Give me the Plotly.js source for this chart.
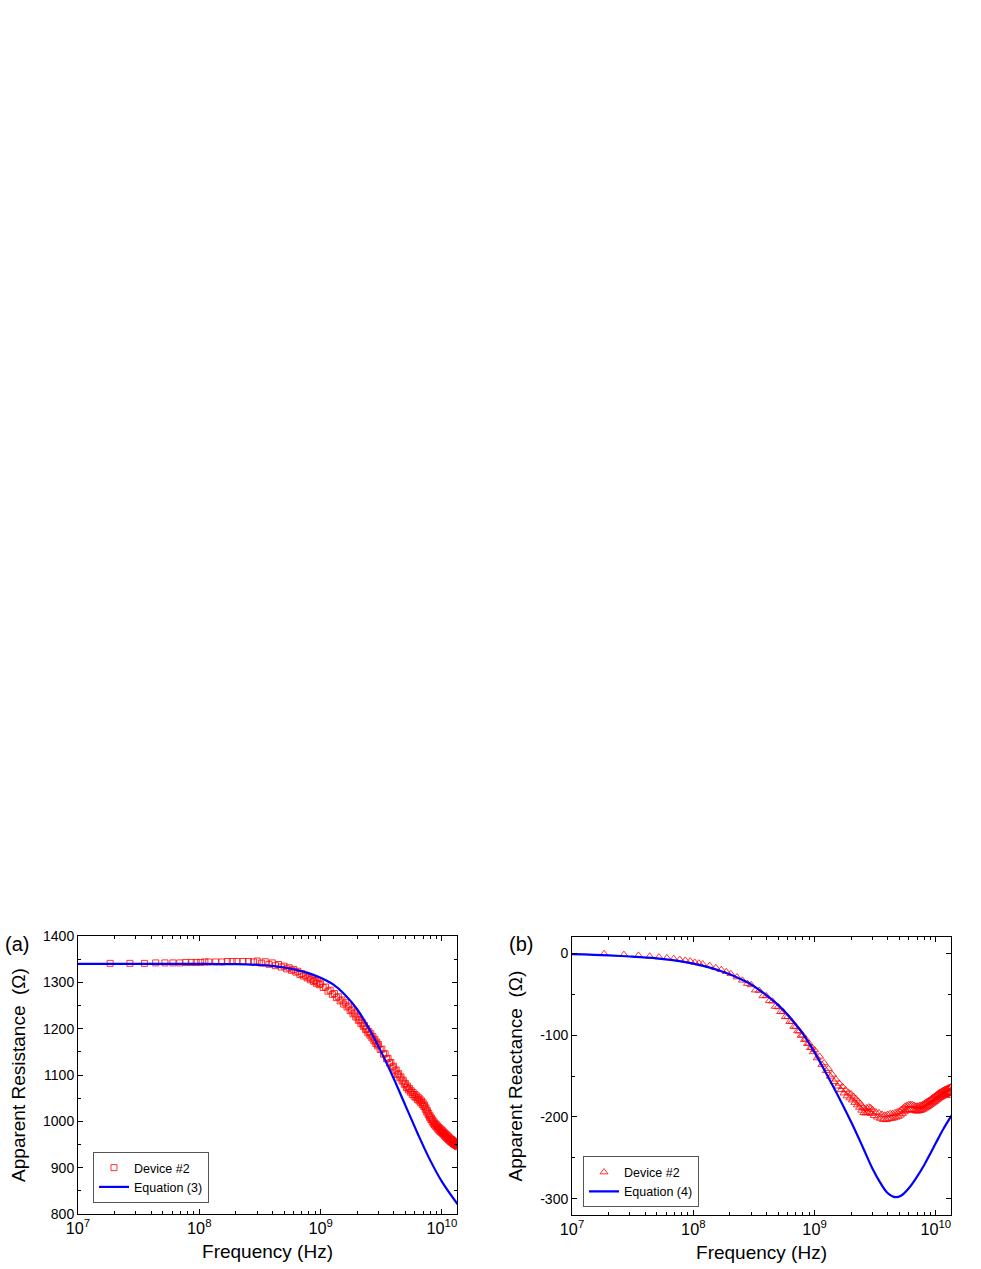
<!DOCTYPE html>
<html>
<head>
<meta charset="utf-8">
<script src="https://cdn.plot.ly/plotly-3.0.1.min.js"></script>
<style>html,body{margin:0;padding:0;background:#fff;}</style>
</head>
<body>
<div id="chart" style="width:981px;height:1269px;"></div>
<script>
// Measured frequencies (GHz)
const measFreqGHz = [
  0.0184, 0.0268, 0.0353, 0.0437, 0.0521, 0.0606, 0.0690, 0.0774, 0.0859, 0.0943,
  0.1028, 0.1112, 0.1196, 0.1365, 0.1533, 0.1702, 0.1870, 0.2039, 0.2292, 0.2545, 0.2798,
  0.300, 0.325, 0.350, 0.375, 0.400, 0.425, 0.450, 0.475, 0.500, 0.525,
  0.550, 0.575, 0.600, 0.625, 0.650, 0.675, 0.700, 0.725, 0.750, 0.775,
  0.800, 0.825, 0.850, 0.875, 0.900, 0.925, 0.950, 0.975,
  1.00, 1.05, 1.10, 1.15, 1.20, 1.25, 1.30, 1.35, 1.40, 1.45,
  1.50, 1.55, 1.60, 1.65, 1.70, 1.75, 1.80, 1.85, 1.90, 1.95,
  2.00, 2.05, 2.10, 2.15, 2.20, 2.25, 2.30, 2.35, 2.40, 2.45,
  2.50, 2.55, 2.60, 2.65, 2.70, 2.75, 2.80, 2.85, 2.90, 2.95, 3.00,
  3.1, 3.2, 3.3, 3.4, 3.5, 3.6, 3.7, 3.8, 3.9, 4.0,
  4.1, 4.2, 4.3, 4.4, 4.5, 4.6, 4.7, 4.8, 4.9, 5.0,
  5.1, 5.2, 5.3, 5.4, 5.5, 5.6, 5.7, 5.8, 5.9, 6.0,
  6.1, 6.2, 6.3, 6.4, 6.5, 6.6, 6.7, 6.8, 6.9, 7.0,
  7.1, 7.2, 7.3, 7.4, 7.5, 7.6, 7.7, 7.8, 7.9, 8.0,
  8.1, 8.2, 8.3, 8.4, 8.5, 8.6, 8.7, 8.8, 8.9, 9.0,
  9.1, 9.2, 9.3, 9.4, 9.5, 9.6, 9.7, 9.8, 9.9, 10.0,
  10.1, 10.2, 10.3, 10.4, 10.5, 10.6, 10.7, 10.8, 10.9, 11.0,
  11.1, 11.2, 11.3, 11.4, 11.5, 11.6, 11.7, 11.8, 11.9, 12.0,
  12.1, 12.2, 12.3, 12.4, 12.5, 12.6, 12.7, 12.8, 12.9, 13.0,
  13.1, 13.2, 13.3, 13.4, 13.5];

// Device #2 apparent resistance (Ohm)
const resistance = [
  1341, 1341, 1341, 1342, 1342, 1342, 1342, 1343, 1343, 1343,
  1343, 1344, 1344, 1344, 1344, 1345, 1345, 1345, 1345, 1345, 1344,
  1346, 1341.5, 1344.5, 1339, 1342, 1336, 1338.5, 1333, 1335, 1329,
  1331.5, 1326, 1328, 1322, 1324, 1317, 1319, 1313.5, 1315.5, 1309.5,
  1311.5, 1305.5, 1307.5, 1302, 1304, 1298, 1300.5, 1295,
  1297, 1289, 1290, 1281, 1283, 1274, 1276, 1267, 1269, 1260,
  1262, 1253, 1256, 1247, 1249, 1239, 1241, 1232, 1234, 1225,
  1227, 1218, 1220, 1211, 1214, 1205, 1207, 1198, 1200, 1191,
  1194, 1186, 1189, 1180, 1183, 1174, 1177, 1168, 1171, 1163, 1166,
  1155, 1156, 1145, 1146, 1135, 1136, 1126, 1127, 1117, 1119,
  1109, 1111, 1101, 1103, 1094, 1096, 1087, 1089, 1080, 1082,
  1073, 1076, 1068, 1071, 1063, 1066, 1058, 1062, 1054, 1058,
  1051, 1055, 1047, 1051, 1044, 1048, 1040, 1044, 1036, 1040,
  1032, 1035, 1026, 1029, 1020, 1023, 1014, 1017, 1009, 1012,
  1004, 1007, 999, 1003, 995, 999, 992, 996, 989, 993,
  986, 990, 983, 987, 980, 985, 978, 983, 976, 981,
  974, 979, 972, 976, 969, 974, 967, 972, 965, 970,
  963, 968, 961, 966, 959, 964, 957, 962, 956, 961,
  954, 959, 953, 958, 951, 956, 950, 955, 949, 954,
  948, 953, 947, 952, 945];

// Device #2 apparent reactance (Ohm)
const reactance = [
  -0.5, -1.5, -2.5, -3.5, -4.5, -5.5, -6.5, -7.5, -8.5, -9.5,
  -11, -12, -13, -15, -17.5, -20, -22.5, -25, -29, -33, -37,
  -38.5, -45, -45.5, -52, -52, -58, -58.5, -65, -65.5, -71.5,
  -71.5, -77.5, -77.5, -83.5, -83.5, -89.5, -89.5, -95, -95, -100.5,
  -100, -105.5, -105, -110.5, -110, -115.5, -115, -120.5,
  -118, -128, -126, -136, -134, -143.5, -141, -150.5, -148, -157,
  -154, -162.5, -159, -167, -163, -171, -167, -174.5, -170, -177,
  -172, -179.5, -175, -182.5, -178, -185.5, -181, -188.5, -184, -192,
  -188, -195, -190, -195.5, -189, -194.5, -188, -194.5, -189, -196, -191,
  -198.5, -194, -200.5, -195, -202, -197, -203.5, -198, -203.5, -197,
  -202.5, -196, -202, -196, -201.5, -195, -200.5, -194, -199.5, -193,
  -198, -191, -196, -189, -194, -187, -192.5, -186, -191.5, -185,
  -191, -185, -191, -185, -191.5, -186, -192.5, -187, -193, -187,
  -193, -187, -192.5, -186, -192, -186, -191.5, -185, -190.5, -184,
  -189.5, -183, -188.5, -182, -187.5, -181, -186.5, -180, -185.5, -179,
  -184.5, -178, -183.5, -177, -182.5, -176, -181.5, -175, -180.5, -174,
  -179.5, -173, -178.5, -172, -177.5, -171, -176.5, -170, -176, -170,
  -175.5, -169, -174.5, -168, -174, -168, -173.5, -167, -173, -167,
  -172.5, -166, -172, -166, -171.5, -165, -171, -165, -170.5, -164,
  -170, -164, -169.5, -163, -174];

// Equation (3) curve
const eq3Freq = [1e7, 3e7, 1e8, 2e8, 3.16e8, 3.98e8, 5.01e8, 6.31e8, 7.94e8, 1e9, 1.26e9,
  1.58e9, 2.0e9, 2.51e9, 3.16e9, 3.98e9, 5.01e9, 6.31e9, 7.94e9, 1e10, 1.35e10];
const eq3R = [1340, 1340, 1340, 1339.3, 1337.5, 1335.5, 1332, 1327, 1320, 1310, 1296,
  1274, 1242, 1200, 1150, 1094, 1034, 974, 918, 870, 821];

// Equation (4) curve
const eq4FreqGHz = [0.01, 0.02, 0.03, 0.05, 0.07, 0.1, 0.13, 0.16, 0.2, 0.25, 0.3, 0.4, 0.5, 0.6, 0.7, 0.8,
  1.0, 1.26, 1.6, 2.0, 2.5, 3.0, 3.5, 4.0, 4.6, 5.2, 6.0, 7.0, 8.0, 9.0, 10.0, 11.5, 13.5];
const eq4X = [-1, -2.5, -3.8, -6, -8.5, -12.5, -16.5, -20.5, -25.5, -32, -38, -51, -63, -75, -87, -98,
  -121, -148, -177, -206, -237, -263, -281, -293, -298, -296, -287, -273, -259, -245, -232, -215, -198];

const yTicksB = [0, -100, -200, -300];
const yTickTextB = ['0', '-100', '-200', '-300'];

const toHz = a => a.map(g => g * 1e9);
const measFreq = toHz(measFreqGHz);

const FONT = 'Arial, "Liberation Sans", Helvetica, sans-serif';
const RED = 'rgba(255,0,0,0.8)';
const BLUE = '#0000ff';

const traces = [
  {type: 'scatter', mode: 'markers', name: 'Device #2', x: measFreq, y: resistance,
   xaxis: 'x', yaxis: 'y', legend: 'legend',
   marker: {symbol: 'square-open', size: 6, color: RED, line: {width: 1}}},
  {type: 'scatter', mode: 'lines', name: 'Equation (3)', x: eq3Freq, y: eq3R,
   xaxis: 'x', yaxis: 'y', legend: 'legend',
   line: {color: BLUE, width: 2.2, shape: 'spline'}},
  {type: 'scatter', mode: 'markers', name: 'Device #2', x: measFreq, y: reactance,
   xaxis: 'x2', yaxis: 'y2', legend: 'legend2',
   marker: {symbol: 'triangle-up-open', size: 7, color: RED, line: {width: 1}}},
  {type: 'scatter', mode: 'lines', name: 'Equation (4)', x: toHz(eq4FreqGHz), y: eq4X,
   xaxis: 'x2', yaxis: 'y2', legend: 'legend2',
   line: {color: BLUE, width: 2.2, shape: 'spline'}}
];

function xAxis(domain, anchor) {
  return {
    domain: domain, anchor: anchor, type: 'log', range: [7, 10.125], dtick: 1,
    exponentformat: 'power', showline: true, linecolor: '#000', linewidth: 1,
    mirror: 'ticks', ticks: 'inside', ticklen: 5, tickwidth: 1, tickcolor: '#000',
    showgrid: false, zeroline: false, tickfont: {size: 13, color: '#000'},
    minor: {ticks: 'inside', ticklen: 3, tickwidth: 1, tickcolor: '#000', dtick: 'D1', showgrid: false},
    title: {text: 'Frequency (Hz)', font: {size: 19, color: '#000'}, standoff: 8}
  };
}
function yAxisBase(domain, anchor) {
  return {
    domain: domain, anchor: anchor, showline: true, linecolor: '#000', linewidth: 1,
    mirror: 'ticks', ticks: 'inside', ticklen: 5, tickwidth: 1, tickcolor: '#000',
    showgrid: false, zeroline: false, tickfont: {size: 14, color: '#000'},
    minor: {ticks: 'inside', ticklen: 3, tickwidth: 1, tickcolor: '#000', dtick: 50, tick0: 0, showgrid: false}
  };
}

const ya = yAxisBase([0.0433, 0.2624], 'x');
ya.range = [800, 1400]; ya.dtick = 100; ya.tick0 = 0;
ya.title = {text: 'Apparent Resistance\u00a0 (\u03a9)', font: {size: 19, color: '#000'}, standoff: 12};

const yb = yAxisBase([0.0425, 0.2616], 'x2');
yb.range = [-320, 20]; yb.tickmode = 'array'; yb.tickvals = yTicksB; yb.ticktext = yTickTextB;
yb.title = {text: 'Apparent Reactance\u00a0 (\u03a9)', font: {size: 19, color: '#000'}, standoff: 12};

const legendBase = {
  xanchor: 'left', yanchor: 'bottom', bgcolor: '#fff', bordercolor: '#555', borderwidth: 1,
  font: {size: 12.5, color: '#000', family: FONT}, itemwidth: 30, tracegroupgap: 0
};

const layout = {
  width: 981, height: 1269,
  margin: {l: 0, r: 0, t: 0, b: 0},
  paper_bgcolor: '#fff', plot_bgcolor: '#fff',
  font: {family: FONT, color: '#000'},
  showlegend: true,
  xaxis: xAxis([0.0795, 0.4659], 'y'),
  yaxis: ya,
  xaxis2: xAxis([0.5831, 0.9694], 'y2'),
  yaxis2: yb,
  legend: Object.assign({x: 0.0948, y: 0.052}, legendBase),
  legend2: Object.assign({x: 0.5943, y: 0.0485}, legendBase),
  annotations: [
    {text: '(a)', xref: 'paper', yref: 'paper', x: 3 / 981, y: (1269 - 944) / 1269,
     xanchor: 'left', yanchor: 'middle', showarrow: false, font: {size: 20, color: '#000'}},
    {text: '(b)', xref: 'paper', yref: 'paper', x: 507 / 981, y: (1269 - 944) / 1269,
     xanchor: 'left', yanchor: 'middle', showarrow: false, font: {size: 20, color: '#000'}}
  ]
};

Plotly.newPlot('chart', traces, layout, {staticPlot: true, displayModeBar: false});
</script>
</body>
</html>
